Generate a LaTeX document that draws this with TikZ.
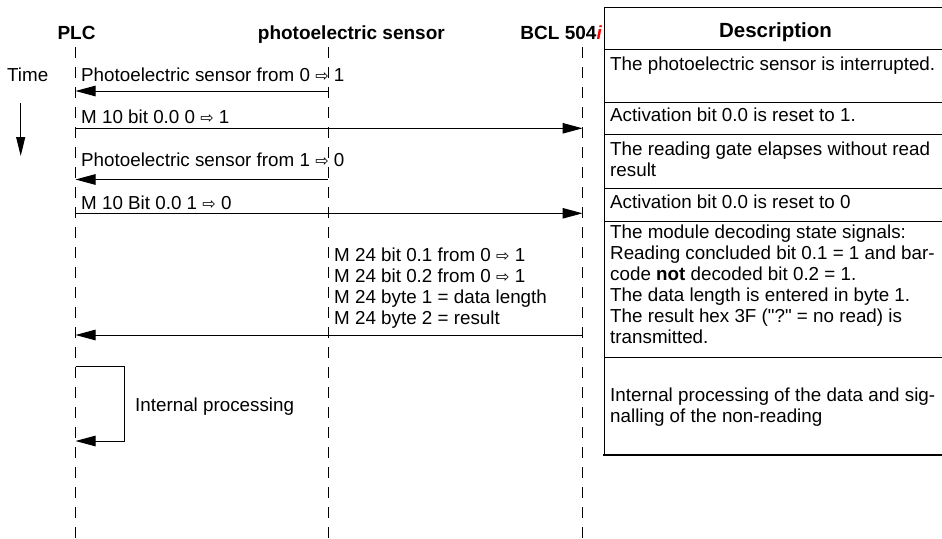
\documentclass[tikz,border=0pt]{standalone}
\usepackage{fontspec}
\setmainfont{Liberation Sans}[Ligatures=TeXOff]
\newfontfamily\dejavu{DejaVu Sans}
\usetikzlibrary{arrows.meta}
\newcommand\rar{{\dejavu\fontsize{16}{16}\selectfont ⇨}}
\tikzset{
  txt/.style={anchor=base west, inner sep=0pt, font=\fontsize{18.8}{21}\selectfont},
  hd/.style={inner sep=0pt, font=\fontsize{19}{21}\selectfont\bfseries},
  life/.style={line width=1pt, dash pattern=on 11pt off 9pt},
  msg/.style={line width=1pt, -{Triangle[length=20pt,width=10.5pt]}},
  tabline/.style={line width=1pt},
}
\begin{document}
\begin{tikzpicture}[x=1pt,y=-1pt]
\useasboundingbox (0,0) rectangle (942,538);
% lifelines
\coordinate (plcT) at (75.5,47);  \coordinate (plcB) at (75.5,538);
\coordinate (senT) at (328,47);   \coordinate (senB) at (328,538);
\coordinate (bclT) at (582.5,47); \coordinate (bclB) at (582.5,538);
\draw[life] (plcT) -- (plcB);
\draw[life] (senT) -- (senB);
\draw[life] (bclT) -- (bclB);
% headers
\node[hd, anchor=base] (hplc) at (76.5,39) {PLC};
\node[hd, anchor=base east] (hsen) at (445,39) {photoelectric sensor};
\node[hd, anchor=base east] (hbcl) at (602,39) {BCL 504\textcolor{red}{\itshape i}};
% time
\node[txt] (time) at (7,81) {Time};
\coordinate (t1) at (20.7,103); \coordinate (t2) at (20.7,156);
\draw[line width=1pt, -{Triangle[length=19pt,width=9pt]}] (t1) -- (t2);
% messages
\node[txt] (m1) at (81,81.7) {Photoelectric sensor from 0 \rar{} 1};
\coordinate (a1s) at (328,91); \coordinate (a1e) at (75.5,91);
\draw[msg] (a1s) -- (a1e);
\node[txt] (m2) at (81,123.3) {M 10 bit 0.0 0 \rar{} 1};
\coordinate (a2s) at (75.5,128.3); \coordinate (a2e) at (582.5,128.3);
\draw[msg] (a2s) -- (a2e);
\node[txt] (m3) at (81,166.7) {Photoelectric sensor from 1 \rar{} 0};
\coordinate (a3s) at (328,179.5); \coordinate (a3e) at (75.5,179.5);
\draw[msg] (a3s) -- (a3e);
\node[txt] (m4) at (81,209) {M 10 Bit 0.0 1 \rar{} 0};
\coordinate (a4s) at (75.5,213.3); \coordinate (a4e) at (582.5,213.3);
\draw[msg] (a4s) -- (a4e);
\node[txt] (m5a) at (334,261.7) {M 24 bit 0.1 from 0 \rar{} 1};
\node[txt] (m5b) at (334,282.7) {M 24 bit 0.2 from 0 \rar{} 1};
\node[txt] (m5c) at (334,303.7) {M 24 byte 1 = data length};
\node[txt] (m5d) at (334,324.7) {M 24 byte 2 = result};
\coordinate (a5s) at (582.5,335); \coordinate (a5e) at (75.5,335);
\draw[msg] (a5s) -- (a5e);
% internal loop
\coordinate (lp1) at (75.5,366); \coordinate (lp2) at (124,366);
\coordinate (lp3) at (124,441);  \coordinate (lp4) at (75.5,441);
\draw[msg] (lp1) -- (lp2) -- (lp3) -- (lp4);
\node[txt] (ip) at (135,411.7) {Internal processing};
% description table
\draw[tabline] (604,7) -- (942,7);
\draw[tabline] (604,7) -- (604,455);
\foreach \yy in {49,102,134,188,221,357} \draw[tabline] (604,\yy) -- (942,\yy);
\draw[line width=2pt] (603,455) -- (942,455);
\node[hd, anchor=base, font=\fontsize{20.5}{22}\selectfont\bfseries] (hdesc) at (775.5,37) {Description};
\node[txt] (d1) at (610,70) {The photoelectric sensor is interrupted.};
\node[txt] (d2) at (610,121.5) {Activation bit 0.0 is reset to 1.};
\node[txt] (d3a) at (610,155) {The reading gate elapses without read};
\node[txt] (d3b) at (610,176) {result};
\node[txt] (d4) at (610,208) {Activation bit 0.0 is reset to 0};
\node[txt] (d5a) at (610,238.3) {The module decoding state signals:};
\node[txt] (d5b) at (610,259.3) {Reading concluded bit 0.1 = 1 and bar-};
\node[txt] (d5c) at (610,280.3) {code \textbf{not} decoded bit 0.2 = 1.};
\node[txt] (d5d) at (610,301.3) {The data length is entered in byte 1.};
\node[txt] (d5e) at (610,322.3) {The result hex 3F ("?" = no read) is};
\node[txt] (d5f) at (610,343.3) {transmitted.};
\node[txt] (d6a) at (610,401.7) {Internal processing of the data and sig-};
\node[txt] (d6b) at (610,422.7) {nalling of the non-reading};
\end{tikzpicture}
\end{document}
